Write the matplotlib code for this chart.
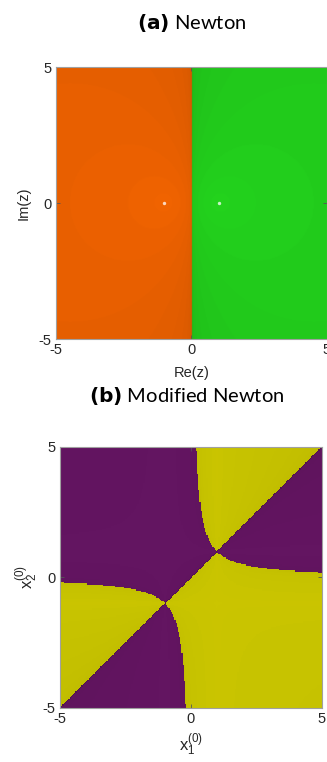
import numpy as np
import matplotlib.pyplot as plt
from matplotlib.colors import to_rgb

# roots of z^2 - 1 and the colour of each basin
roots = [-1.0, 1.0]
colors_a = ["#e96000", "#22cc1c"]
colors_b = ["#631561", "#c9c400"]
lims = [-5, 5]
ticks = [-5, 0, 5]
TOL = 1e-6
MAXIT = 60


def newton(n):
    x = np.linspace(lims[0], lims[1], n)
    z = x[None, :] + 1j * x[:, None]
    it = np.full(z.shape, MAXIT, float)
    for k in range(MAXIT):
        near = np.min([abs(z - r) for r in roots], axis=0) < TOL
        it[near & (it == MAXIT)] = k
        z = (z + 1 / z) / 2
    idx = np.argmin([abs(z - r) for r in roots], axis=0)
    return idx, it


def weierstrass(n):
    # simultaneous (modified) Newton on both roots, start (x1, x2)
    x = np.linspace(lims[0], lims[1], n)
    x1, x2 = np.meshgrid(x, x)
    it = np.full(x1.shape, MAXIT, float)
    with np.errstate(all="ignore"):
        for k in range(MAXIT):
            near = np.min([abs(x1 - r) for r in roots], axis=0) < TOL
            it[near & (it == MAXIT)] = k
            d = x1 - x2
            x1, x2 = x1 - (x1**2 - 1) / d, x2 + (x2**2 - 1) / d
    x1 = np.nan_to_num(x1, nan=0.0)
    idx = np.argmin([abs(x1 - r) for r in roots], axis=0)
    return idx, it


def shade(idx, it, cols, k, top):
    rgb = np.array([to_rgb(c) for c in cols])[idx]
    f = np.clip(top - k * it, 0.82, top)
    return np.clip(rgb * f[..., None], 0, 1)


fig = plt.figure(figsize=(3.27, 7.62), dpi=100)

def style(ax):
    ax.set_xlim(lims)
    ax.set_ylim(lims)
    ax.set_xticks(ticks)
    ax.set_yticks(ticks)
    ax.set_xticklabels([str(t) for t in ticks])
    ax.set_yticklabels([str(t) for t in ticks])
    ax.tick_params(direction="in", length=3, width=0.6, color="#555555",
                   labelsize=10.5, labelcolor="#262626", top=True, right=True, pad=3)
    for s in ax.spines.values():
        s.set_color("#a0a0a0")
        s.set_linewidth(0.8)
    for lab in ax.get_xticklabels() + ax.get_yticklabels():
        lab.set_family("Liberation Sans")

# (a) Newton
ax1 = fig.add_axes([0.171, 0.555, 0.829, 0.357])
idx, it = newton(400)
img = shade(idx, it, colors_a, 0.012, 1.07)
ax1.imshow(img, extent=[-5, 5, -5, 5], origin="lower", interpolation="bilinear", aspect="auto")
ax1.scatter(roots, [0, 0], s=6, c="white", alpha=0.75, lw=0, zorder=3)
style(ax1)
ax1.set_xlabel("Re(z)", fontsize=10.5, family="Liberation Sans", color="#262626", labelpad=6)
ax1.set_ylabel("Im(z)", fontsize=10.5, family="Liberation Sans", color="#262626", labelpad=6)
fig.text(0.585, 0.970, r"$\mathbf{(a)}$ Newton", ha="center", va="center", fontsize=14.5, family="Lato")

# (b) modified Newton
ax2 = fig.add_axes([0.1835, 0.0709, 0.801, 0.3425])
idx, it = weierstrass(220)
img = shade(idx, it, colors_b, 0.005, 1.02)
ax2.imshow(img, extent=[-5, 5, -5, 5], origin="lower", interpolation="nearest", aspect="auto")
style(ax2)
ax2.set_xlabel(r"$\mathregular{x_1^{(0)}}$", fontsize=12, family="Liberation Sans", color="#262626", labelpad=4)
ax2.set_ylabel(r"$\mathregular{x_2^{(0)}}$", fontsize=12, family="Liberation Sans", color="#262626", labelpad=2)
fig.text(0.57, 0.480, r"$\mathbf{(b)}$ Modified Newton", ha="center", va="center", fontsize=14.5, family="Lato")

fig.savefig("out.png", dpi=100)
